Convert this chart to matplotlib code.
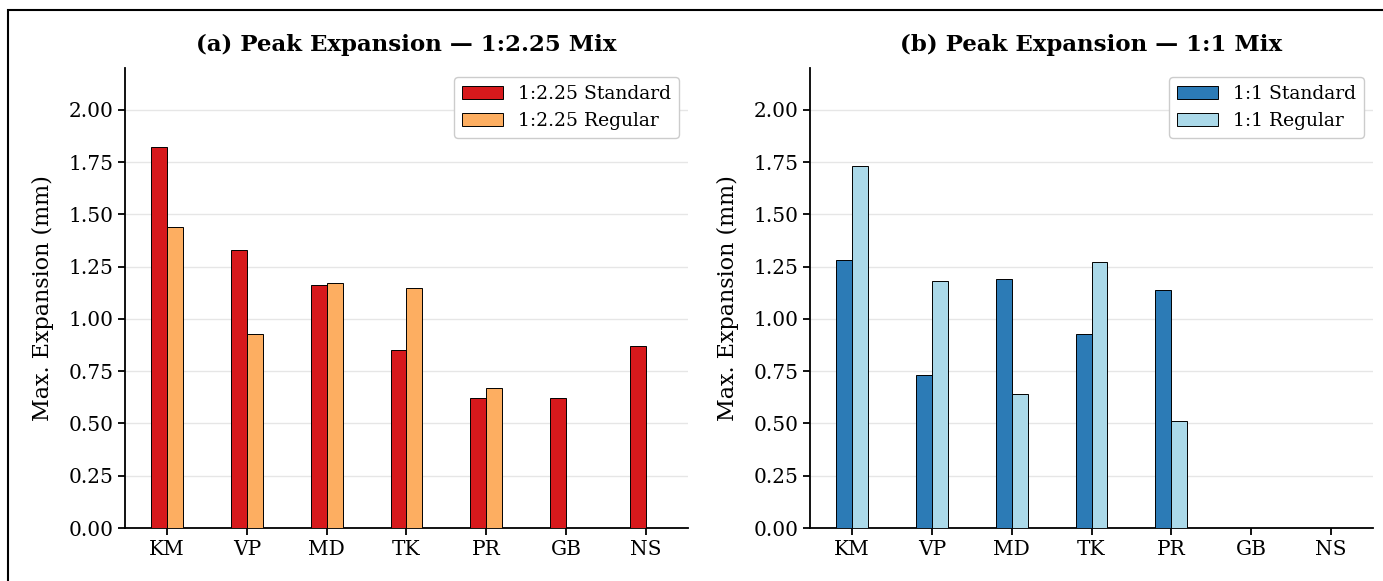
import numpy as np
import matplotlib
matplotlib.use('Agg')
import matplotlib.pyplot as plt
from matplotlib.patches import Rectangle

plt.rcParams['font.family'] = ['DejaVu Serif']

sites = ['KM', 'VP', 'MD', 'TK', 'PR', 'GB', 'NS']

# 1:2.25 mix
mix225_standard = [1.82, 1.33, 1.16, 0.85, 0.62, 0.62, 0.87]
mix225_regular = [1.44, 0.93, 1.17, 1.15, 0.67, np.nan, np.nan]

# 1:1 mix
mix11_standard = [1.28, 0.73, 1.19, 0.93, 1.14, np.nan, np.nan]
mix11_regular = [1.73, 1.18, 0.64, 1.27, 0.51, np.nan, np.nan]

yticks = [0.00, 0.25, 0.50, 0.75, 1.00, 1.25, 1.50, 1.75, 2.00]

fig = plt.figure(figsize=(13.83, 5.81), dpi=100)
ax1 = fig.add_axes([125 / 1383, 53 / 581, 563 / 1383, 460 / 581])
ax2 = fig.add_axes([810 / 1383, 53 / 581, 563 / 1383, 460 / 581])

# outer frame (cropped on right / bottom in the original)
fig.patches.append(Rectangle((8 / 1383, -0.1), 1.2, 1 - 10 / 581 + 0.1,
                             transform=fig.transFigure, fill=False,
                             edgecolor='black', linewidth=1.5))

x = np.arange(len(sites))
w = 0.2

panels = [
    (ax1, mix225_standard, mix225_regular, '#d7191c', '#fdae61',
     '1:2.25 Standard', '1:2.25 Regular', '(a) Peak Expansion — 1:2.25 Mix'),
    (ax2, mix11_standard, mix11_regular, '#2c7bb6', '#abd9e9',
     '1:1 Standard', '1:1 Regular', '(b) Peak Expansion — 1:1 Mix'),
]

for ax, std, reg, c1, c2, l1, l2, title in panels:
    ax.bar(x - w / 2, std, w, color=c1, edgecolor='black', linewidth=0.7, label=l1, zorder=3)
    ax.bar(x + w / 2, reg, w, color=c2, edgecolor='black', linewidth=0.7, label=l2, zorder=3)
    ax.set_xticks(x)
    ax.set_xticklabels(sites, fontsize=14.5)
    ax.set_yticks(yticks)
    ax.set_yticklabels([f'{t:.2f}' for t in yticks], fontsize=14.5)
    ax.set_ylim(0, 2.2)
    ax.set_xlim(-0.525, 6.525)
    ax.set_ylabel('Max. Expansion (mm)', fontsize=16, labelpad=10)
    ax.set_title(title, fontsize=16.5, fontweight='bold', pad=12)
    ax.yaxis.grid(True, color='#e6e6e6', linewidth=1, zorder=0)
    ax.spines['top'].set_visible(False)
    ax.spines['right'].set_visible(False)
    ax.spines['left'].set_linewidth(1.3)
    ax.spines['bottom'].set_linewidth(1.3)
    ax.tick_params(width=1.3, length=5)
    ax.legend(loc='upper right', fontsize=13.5, framealpha=1, edgecolor='#cccccc',
              handlelength=2.2)

plt.savefig('out.png', dpi=100)
plt.close()
